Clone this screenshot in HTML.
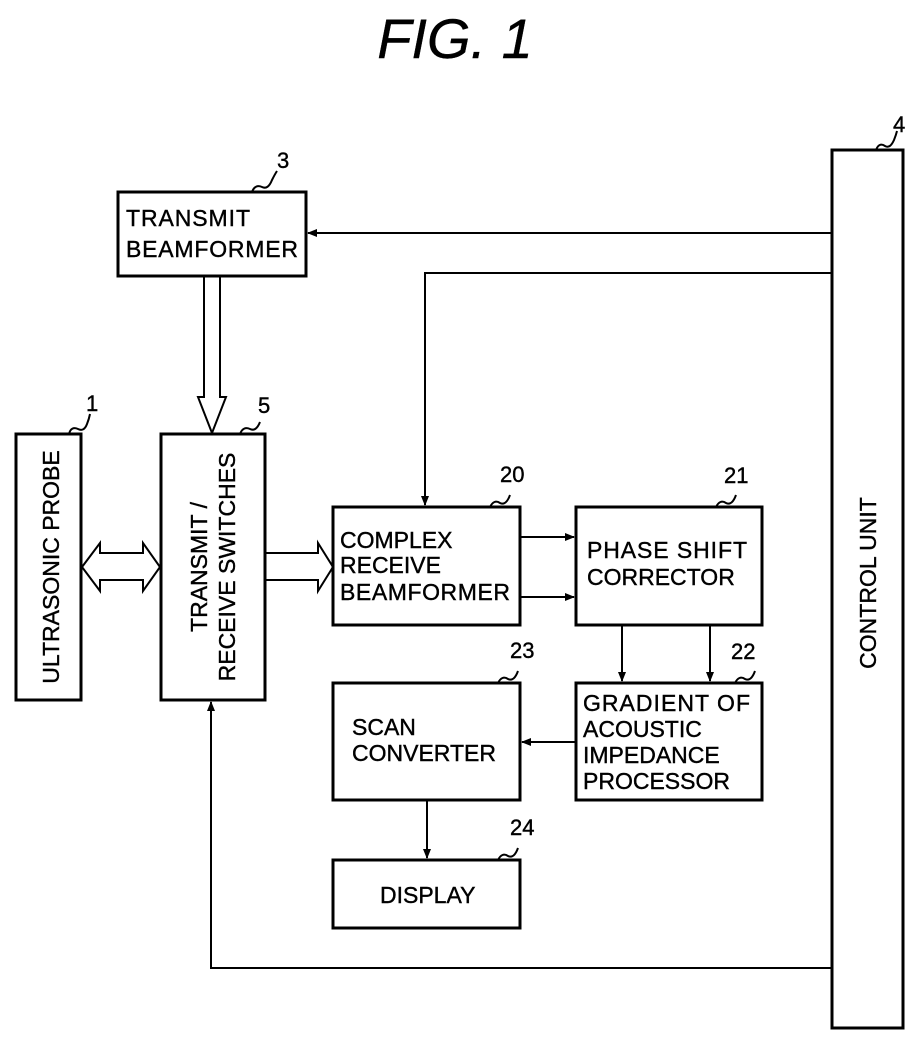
<!DOCTYPE html>
<html><head><style>
body{margin:0;background:#fff;width:912px;height:1040px;overflow:hidden}
text{font-family:"Liberation Sans",Arial,sans-serif;fill:#000;stroke:#000;stroke-width:0.4}
</style></head><body>
<svg width="912" height="1040" viewBox="0 0 912 1040" xmlns="http://www.w3.org/2000/svg">
<defs><marker id="a" markerWidth="10" markerHeight="8" refX="9" refY="4" orient="auto" markerUnits="userSpaceOnUse"><path d="M0,0 L10,4 L0,8 z" fill="#000"/></marker></defs>
<text x="455" y="58" font-size="56" font-style="italic" text-anchor="middle" stroke-width="0">FIG.  1</text>
<g fill="none" stroke="#000" stroke-width="3">
<rect x="832" y="150" width="71" height="878"/>
<rect x="118" y="192" width="188" height="84"/>
<rect x="161" y="434" width="104" height="266"/>
<rect x="16" y="434" width="65" height="266"/>
<rect x="333" y="507" width="187" height="118"/>
<rect x="576" y="507" width="186" height="118"/>
<rect x="576" y="683" width="186" height="117"/>
<rect x="333" y="683" width="187" height="117"/>
<rect x="333" y="860" width="187" height="68"/>
</g>
<g fill="none" stroke="#000" stroke-width="2">
<line x1="832" y1="233" x2="308" y2="233" marker-end="url(#a)"/>
<polyline points="832,273 425,273 425,505" marker-end="url(#a)"/>
<polyline points="832,968 211,968 211,702" marker-end="url(#a)"/>
<line x1="520" y1="537" x2="574" y2="537" marker-end="url(#a)"/>
<line x1="520" y1="597" x2="574" y2="597" marker-end="url(#a)"/>
<line x1="622" y1="625" x2="622" y2="681" marker-end="url(#a)"/>
<line x1="710" y1="625" x2="710" y2="681" marker-end="url(#a)"/>
<line x1="576" y1="742" x2="522" y2="742" marker-end="url(#a)"/>
<line x1="427" y1="800" x2="427" y2="858" marker-end="url(#a)"/>
<path d="M204,277 V397 H198 L212,433 L226,397 H220 V277" stroke-width="2"/>
<path d="M82,567 L100,543 V553 H143 V543 L160,567 L143,591 V580 H100 V591 Z"/>
<path d="M266,553 H318 V543 L333,567 L318,591 V580 H266"/>
<path d="M252,192 q3,-8 10,-5 q6,3 10,-7 q3,-6 5,-9"/>
<path d="M876,150 q3,-8 9,-4 q5,3 9,-6 q2,-5 3,-9"/>
<path d="M69,434 q2,-8 9,-5 q6,3 9,-5 q2,-5 3,-10"/>
<path d="M240,434 q3,-8 10,-5 q6,3 10,-7"/>
<path d="M490,507 q4,-8 10,-4 q6,3 10,-8"/>
<path d="M716,507 q4,-8 10,-4 q6,3 10,-8"/>
<path d="M735,683 q4,-8 10,-4 q6,3 10,-8"/>
<path d="M498,683 q4,-8 10,-4 q6,3 10,-8"/>
<path d="M498,860 q4,-8 10,-4 q6,3 10,-8"/>
</g>
<g font-size="23">
<text x="126" y="226" textLength="124">TRANSMIT</text>
<text x="126" y="257" textLength="172">BEAMFORMER</text>
<text x="340" y="548">COMPLEX</text>
<text x="340" y="573">RECEIVE</text>
<text x="340" y="600" textLength="170">BEAMFORMER</text>
<text x="587" y="558" textLength="160">PHASE SHIFT</text>
<text x="587" y="585">CORRECTOR</text>
<text x="583" y="711" textLength="167">GRADIENT OF</text>
<text x="583" y="737">ACOUSTIC</text>
<text x="583" y="763">IMPEDANCE</text>
<text x="583" y="789">PROCESSOR</text>
<text x="352" y="735">SCAN</text>
<text x="352" y="761">CONVERTER</text>
<text x="380" y="903">DISPLAY</text>
<text transform="translate(59,567) rotate(-90)" text-anchor="middle">ULTRASONIC PROBE</text>
<text transform="translate(207,567) rotate(-90)" text-anchor="middle">TRANSMIT /</text>
<text transform="translate(235,567) rotate(-90)" text-anchor="middle">RECEIVE SWITCHES</text>
<text transform="translate(876,583) rotate(-90)" text-anchor="middle">CONTROL UNIT</text>
</g>
<g font-size="22">
<text x="277" y="168">3</text>
<text x="893" y="132">4</text>
<text x="86" y="411">1</text>
<text x="258" y="413">5</text>
<text x="500" y="482">20</text>
<text x="724" y="483">21</text>
<text x="731" y="659">22</text>
<text x="510" y="658">23</text>
<text x="510" y="835">24</text>
</g>
</svg>
</body></html>
